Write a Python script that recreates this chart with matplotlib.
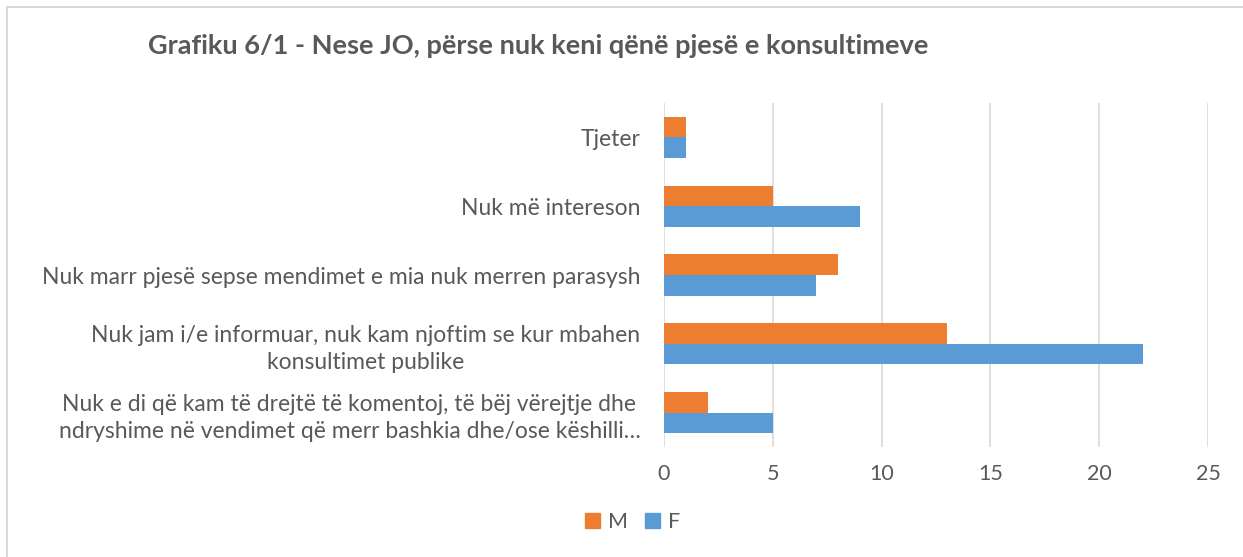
import matplotlib
matplotlib.use("Agg")
import matplotlib.pyplot as plt
from matplotlib.patches import Patch
from matplotlib.lines import Line2D

categories = [
    "Nuk e di që kam të drejtë të komentoj, të bëj vërejtje dhe\nndryshime në vendimet që merr bashkia dhe/ose këshilli…",
    "Nuk jam i/e informuar, nuk kam njoftim se kur mbahen\nkonsultimet publike",
    "Nuk marr pjesë sepse mendimet e mia nuk merren parasysh",
    "Nuk më intereson",
    "Tjeter",
]
M = [2, 13, 8, 5, 1]
F = [5, 22, 7, 9, 1]
xticks = [0, 5, 10, 15, 20, 25]

orange = "#ED7D31"
blue = "#5B9BD5"
txt = "#595959"
plt.rcParams["font.family"] = ["Lato", "DejaVu Sans"]

fig = plt.figure(figsize=(12.43, 5.57), dpi=100)
ax = fig.add_axes([664/1243, 1-447/557, (1208-664)/1243, (447-103)/557])

y = list(range(len(categories)))
h = 0.3
ax.barh([i + h/2 for i in y], M, height=h, color=orange, label="M")
ax.barh([i - h/2 for i in y], F, height=h, color=blue, label="F")

ax.set_xlim(0, 25)
ax.set_ylim(-0.5, len(categories) - 0.5)
ax.set_xticks(xticks)
ax.set_yticks(y)
ax.set_yticklabels(categories, ha="right", multialignment="center", linespacing=1.35)
ax.tick_params(axis="y", length=0, pad=17, labelsize=16.5, labelcolor=txt)
ax.tick_params(axis="x", length=0, pad=12, labelsize=15.5, labelcolor=txt)

ax.grid(axis="x", color="#D9D9D9", linewidth=1.2)
ax.set_axisbelow(True)
for s in ax.spines.values():
    s.set_visible(False)

fig.text(148/1243, 1-46/557, "Grafiku 6/1 - Nese JO, përse nuk keni qënë pjesë e konsultimeve",
         fontsize=19.5, fontweight="bold", color=txt, va="center", ha="left")

fig.legend(handles=[Patch(color=orange, label="M"), Patch(color=blue, label="F")],
           loc="center", bbox_to_anchor=(0.509, 1-522/557), ncol=2, frameon=False,
           fontsize=15.5, labelcolor=txt, handlelength=0.7, handleheight=0.7,
           handletextpad=0.35, columnspacing=0.8)

fig.add_artist(Line2D([7/1243, 7/1243], [0, 1-7/557], color="#D9D9D9", lw=1.5))
fig.add_artist(Line2D([7/1243, 1], [1-7/557, 1-7/557], color="#D9D9D9", lw=1.5))

fig.savefig("out.png", dpi=100)
